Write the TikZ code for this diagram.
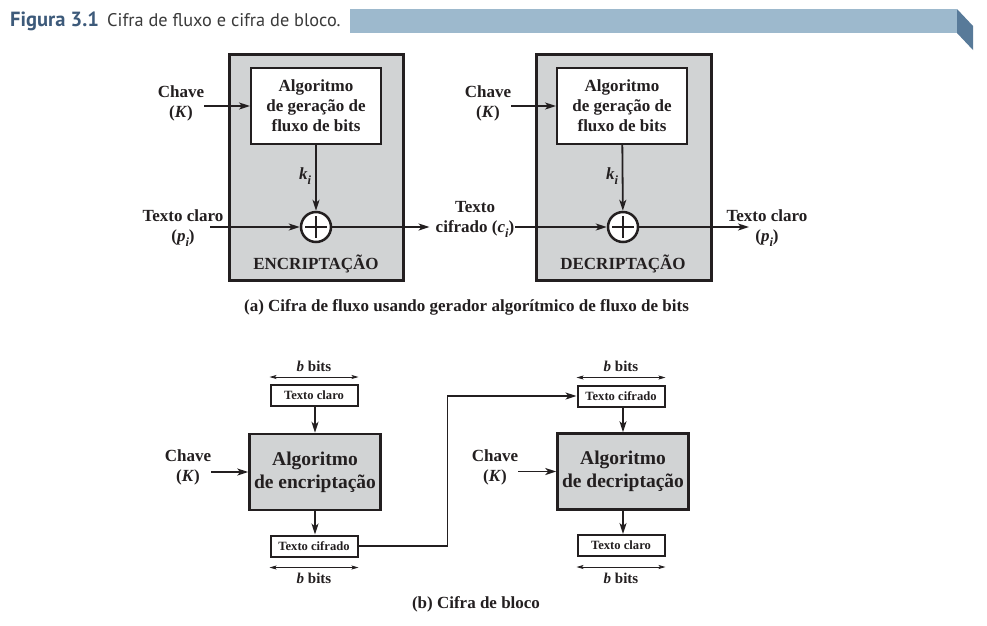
\documentclass[tikz,border=0pt]{standalone}
\usepackage{fontspec}
\setmainfont{Liberation Serif}
\newfontfamily\hdrfont{PT Sans}
\usetikzlibrary{arrows.meta,calc}
\definecolor{ink}{HTML}{231F20}
\definecolor{boxgray}{HTML}{D1D3D4}
\definecolor{bandlight}{HTML}{9DB9CD}
\definecolor{banddark}{HTML}{587A99}
\definecolor{figblue}{HTML}{3D5A7A}
\definecolor{titlegray}{HTML}{3A3A3A}
\newcommand{\fsz}[2]{\fontsize{#1}{#2}\selectfont}
\newcommand{\bi}[1]{\textbf{\textit{#1}}}
\newcommand{\lowsub}[1]{\raisebox{-0.3em}{\fsz{12.5}{12.5}\bfseries\itshape #1}}
\begin{document}
\begin{tikzpicture}[x=1pt,y=-1pt,
  every node/.style={text=ink, font=\bfseries\fsz{17}{20}, inner sep=0pt},
  arr/.style={draw=ink, line width=1.8pt, -{Stealth[length=11pt,width=7pt,inset=3pt]}},
  dbl/.style={draw=ink, line width=0.8pt, {Stealth[length=7pt,width=4pt,inset=1.5pt]}-{Stealth[length=7pt,width=4pt,inset=1.5pt]}},
  outerbox/.style={draw=ink, fill=boxgray, line width=3pt},
  genbox/.style={draw=ink, fill=white, line width=2pt, align=center, minimum width=130pt, minimum height=76pt},
  xorc/.style={circle, draw=ink, fill=white, line width=2.5pt, minimum size=30pt},
  algbox/.style={draw=ink, fill=boxgray, line width=2.5pt, align=center, minimum width=131pt, minimum height=76pt, font=\bfseries\fsz{19.5}{23}},
  smallbox/.style={draw=ink, fill=white, line width=2pt, minimum width=87pt, minimum height=21pt, font=\bfseries\fsz{12.6}{14}},
  bitslbl/.style={font=\bfseries\fsz{15}{16}},
  caption/.style={font=\bfseries\fsz{17}{19}, anchor=base}
]
\useasboundingbox (0,0) rectangle (987,625);
\fill[white] (0,0) rectangle (987,625);

% header
\fill[bandlight] (350,9) rectangle (957,33);
\fill[banddark] (957,9) -- (973,26) -- (973,50) -- (957,33) -- cycle;
\node[anchor=base west, font=\hdrfont\bfseries\fsz{20.5}{22}, text=figblue] (figno) at (10,26) {Figura 3.1};
\node[anchor=base west, font=\hdrfont\fsz{18.3}{22}, text=titlegray] (figttl) at (107,26) {Cifra de fluxo e cifra de bloco.};

% ---------- (a) stream cipher ----------
% encryption
\node[outerbox, minimum width=174pt, minimum height=226pt] (enc) at (316.5,167.5) {};
\node[genbox] (gen1) at (316,106) {Algoritmo\\de geração de\\fluxo de bits};
\node[xorc] (xor1) at (316,227) {};
\draw[line width=2.5pt, draw=ink] ([yshift=11pt]xor1.center) -- ([yshift=-11pt]xor1.center);
\draw[line width=2.5pt, draw=ink] ([xshift=-11pt]xor1.center) -- ([xshift=11pt]xor1.center);
\node (ki1) at (305,176) {\bi{k}\lowsub{i}};
\node (enclbl) at (316,264) {ENCRIPTAÇÃO};
\node[align=center] (key1) at (181,103) {Chave\\(\bi{K})};
\node[align=center] (pt1) at (183,228) {Texto claro\\(\bi{p}\lowsub{i})};
\coordinate (in1) at (210,227);
\draw[arr] (key1.east |- gen1) -- (gen1);
\draw[arr] (gen1) -- (xor1);
\draw[arr] (in1) -- (xor1);

% ciphertext label
\node[align=center] (ct) at (475,219) {Texto\\cifrado (\bi{c}\lowsub{i})};
\draw[arr, shorten >=6pt] (xor1) -- (ct.west |- xor1);

% decryption
\node[outerbox, minimum width=175pt, minimum height=226pt] (dec) at (624,167.5) {};
\node[genbox] (gen2) at (622,106) {Algoritmo\\de geração de\\fluxo de bits};
\node[xorc] (xor2) at (623,227) {};
\draw[line width=2.5pt, draw=ink] ([yshift=11pt]xor2.center) -- ([yshift=-11pt]xor2.center);
\draw[line width=2.5pt, draw=ink] ([xshift=-11pt]xor2.center) -- ([xshift=11pt]xor2.center);
\node (ki2) at (612,176) {\bi{k}\lowsub{i}};
\node (declbl) at (623,264) {DECRIPTAÇÃO};
\node[align=center] (key2) at (488,103) {Chave\\(\bi{K})};
\node[align=center] (pt2) at (767,228) {Texto claro\\(\bi{p}\lowsub{i})};
\coordinate (out2) at (749,227);
\draw[arr] (key2.east |- gen2) -- (gen2);
\draw[arr] (gen2) -- (xor2);
\draw[arr, shorten <=1pt] (ct.east |- xor2) -- (xor2);
\draw[arr] (xor2) -- (out2);

\node[caption] (capa) at (466.5,311) {(a) Cifra de fluxo usando gerador algorítmico de fluxo de bits};

% ---------- (b) block cipher ----------
\node[smallbox] (tc1) at (314,395.5) {Texto claro};
\node[algbox] (enc2) at (315,472) {Algoritmo\\de encriptação};
\node[smallbox] (tf1) at (314,546) {Texto cifrado};
\node[bitslbl] (bt1) at (314,366) {\bi{b} bits};
\node[bitslbl] (bb1) at (314,578) {\bi{b} bits};
\draw[dbl] ([yshift=7pt]tc1.north west) -- ([yshift=7pt]tc1.north east);
\draw[dbl] ([yshift=-10pt]tf1.south west) -- ([yshift=-10pt]tf1.south east);
\node[align=center] (key3) at (188,467) {Chave\\(\bi{K})};
\draw[arr] (key3.east |- enc2) -- (enc2);
\draw[arr] (tc1.south -| enc2) -- (enc2);
\draw[arr] (enc2) -- (tf1.north -| enc2);

\node[smallbox] (tf2) at (621,396) {Texto cifrado};
\node[algbox] (dec2) at (623,471.5) {Algoritmo\\de decriptação};
\node[smallbox] (tc2) at (621,545.5) {Texto claro};
\node[bitslbl] (bt2) at (621,366) {\bi{b} bits};
\node[bitslbl] (bb2) at (621,578) {\bi{b} bits};
\draw[dbl] ([yshift=7pt]tf2.north west) -- ([yshift=7pt]tf2.north east);
\draw[dbl] ([yshift=-10pt]tc2.south west) -- ([yshift=-10pt]tc2.south east);
\node[align=center] (key4) at (495,467) {Chave\\(\bi{K})};
\draw[arr] (key4.east |- dec2) -- (dec2);
\draw[arr] (tf2.south -| dec2) -- (dec2);
\draw[arr] (dec2) -- (tc2.north -| dec2);

\draw[arr] (tf1.east) -- ++(89,0) |- (tf2.west);

\node[caption] (capb) at (476,608) {(b) Cifra de bloco};
\end{tikzpicture}
\end{document}
